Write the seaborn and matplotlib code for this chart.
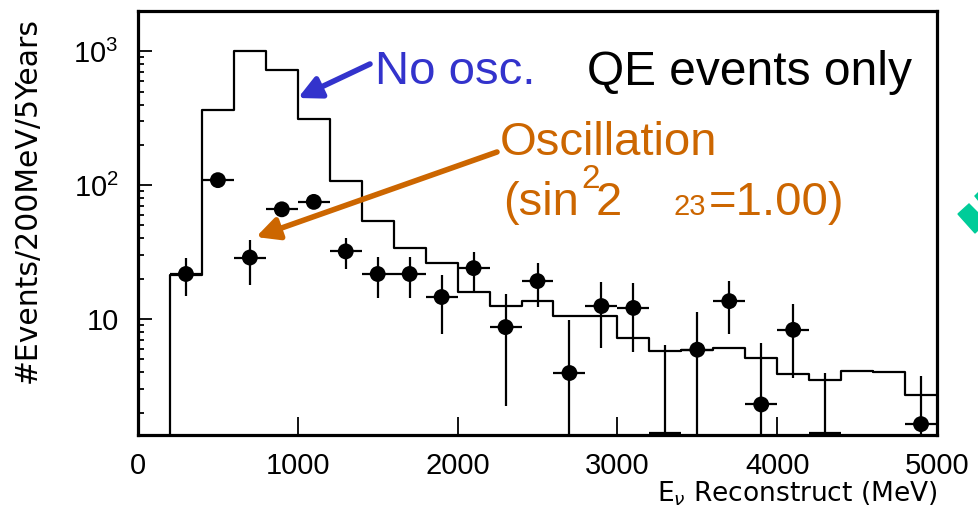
import numpy as np
import pandas as pd
import matplotlib
matplotlib.use("Agg")
import matplotlib.pyplot as plt
import seaborn as sns

# Unoscillated expectation, 200 MeV bins (0 - 5000 MeV)
bin_edges = [0, 200, 400, 600, 800, 1000, 1200, 1400, 1600, 1800, 2000, 2200, 2400,
             2600, 2800, 3000, 3200, 3400, 3600, 3800, 4000, 4200, 4400, 4600, 4800, 5000]
no_osc = [0, 21.3, 363, 1000, 720, 310, 107, 54, 34, 26.2, 15.9, 12.5, 13.6,
          10.5, 10.5, 7.2, 5.75, 5.9, 6.1, 5.1, 3.9, 3.5, 4.1, 4.0, 2.7]

# Oscillated pseudo-data (bin centres, value, error band low/high)
bin_centres = [300, 500, 700, 900, 1100, 1300, 1500, 1700, 1900, 2100, 2300, 2500,
               2700, 2900, 3100, 3300, 3500, 3700, 3900, 4100, 4300, 4500, 4700, 4900]
osc_events = [21.7, 109, 28.8, 66, 75, 32, 21.7, 21.7, 14.6, 24, 8.7, 19.2,
              3.95, 12.5, 12.1, 0, 5.9, 13.6, 2.3, 8.3, 0, np.nan, np.nan, 1.64]
osc_low = [14.8, 99, 17.9, 58, 67, 23.6, 14.4, 14.4, 7.7, 15.9, 2.24, 12.3,
           0, 6.1, 5.7, 0, 0, 7.7, 0, 3.6, 0, np.nan, np.nan, 0]
osc_high = [28.5, 120, 39, 75, 84, 40, 29, 29, 21.3, 31.6, 15.4, 26,
            9.8, 18.9, 18.5, 6.4, 11.3, 19.2, 6.6, 12.9, 3.95, np.nan, np.nan, 3.76]

y_min, y_max = 1.36, 2000
blue = "#3333CC"
orange = "#CC6600"

sns.set_style("ticks")
plt.rcParams["font.family"] = ["Liberation Sans", "DejaVu Sans"]
plt.rcParams["mathtext.fontset"] = "custom"
plt.rcParams["mathtext.rm"] = "Liberation Sans"
for key in ["text.color", "axes.labelcolor", "xtick.color", "ytick.color"]:
    plt.rcParams[key] = "black"

W, H = 979, 520
fig = plt.figure(figsize=(W / 100, H / 100), dpi=100)
ax = fig.add_axes([138 / W, 1 - 435 / H, (937 - 138) / W, (435 - 11) / H])


def fpx(x, y):
    # pixel position -> figure fraction
    return (x / W, 1 - y / H)


# histogram of the no-oscillation expectation
edges = np.array(bin_edges, dtype=float)
mc = pd.DataFrame({"E": (edges[:-1] + edges[1:]) / 2, "w": no_osc})
sns.histplot(data=mc, x="E", weights="w", bins=list(bin_edges), element="step",
             fill=False, color="black", linewidth=1.6, ax=ax)

# data points with error bars
df = pd.DataFrame({"E": bin_centres, "N": osc_events, "lo": osc_low, "hi": osc_high})
df = df.dropna()
x = df["E"].to_numpy(float)
y = df["N"].to_numpy(float)
y_draw = np.where(y > 0, y, y_min * 1.03)  # empty bins sit on the frame
lo = df["lo"].to_numpy(float)
hi = df["hi"].to_numpy(float)
ax.errorbar(x, y_draw, yerr=[y_draw - lo, hi - y_draw], xerr=100, fmt="none",
            ecolor="black", elinewidth=1.6, capsize=0, zorder=3)
pos = y > 0
sns.scatterplot(x=x[pos], y=y[pos], s=130, color="black", edgecolor="none",
                zorder=4, ax=ax)

ax.set_yscale("log")
ax.set_xlim(0, 5000)
ax.set_ylim(y_min, y_max)
ax.set_xticks([0, 1000, 2000, 3000, 4000, 5000])
ax.set_xticklabels(["0", "1000", "2000", "3000", "4000", "5000"])
ax.set_yticks([10, 100, 1000])
ax.set_yticklabels(["10", r"$\mathregular{10^{2}}$", r"$\mathregular{10^{3}}$"])
ax.yaxis.set_minor_locator(matplotlib.ticker.LogLocator(base=10, subs=np.arange(2, 10)))
ax.yaxis.set_minor_formatter(matplotlib.ticker.NullFormatter())
ax.xaxis.set_minor_locator(matplotlib.ticker.NullLocator())

ax.tick_params(axis="x", which="major", direction="in", length=13, width=1.3,
               labelsize=21, pad=12, top=False, colors="black")
ax.tick_params(axis="y", which="major", direction="in", length=10, width=1.3,
               labelsize=21, pad=14, right=False, colors="black")
ax.tick_params(axis="y", which="minor", direction="in", length=4.5, width=1.3,
               right=False, colors="black")
for side in ["left", "right", "top", "bottom"]:
    ax.spines[side].set_visible(True)
    ax.spines[side].set_linewidth(2.3)
    ax.spines[side].set_color("black")

ax.set_xlabel(r"E$_\nu$ Reconstruct (MeV)", fontsize=19, family="DejaVu Sans",
              loc="right")
ax.xaxis.set_label_coords(1.0, -0.105)
ax.xaxis.label.set_verticalalignment("top")
ax.set_ylabel("#Events/200MeV/5Years", fontsize=21.5, family="DejaVu Sans", loc="top")
ax.yaxis.set_label_coords(-0.12, 0.985)

# annotations
fig.text(*fpx(375, 84), "No osc.", color=blue, fontsize=34, va="baseline")
fig.text(*fpx(587, 85), "QE events only", color="black", fontsize=34.5, va="baseline")
fig.text(*fpx(500, 155), "Oscillation", color=orange, fontsize=34, va="baseline")
fig.text(*fpx(503, 215), "(sin", color=orange, fontsize=34, va="baseline")
fig.text(*fpx(581, 188), "2", color=orange, fontsize=24, va="baseline")
fig.text(*fpx(596, 215), "2", color=orange, fontsize=34, va="baseline")
fig.text(*fpx(674, 215), "23", color=orange, fontsize=21, va="baseline")
fig.text(*fpx(709, 215), "=1.00)", color=orange, fontsize=34, va="baseline")

ax.annotate("", xy=fpx(298, 98), xytext=fpx(370, 64), xycoords="figure fraction",
            textcoords="figure fraction",
            arrowprops=dict(arrowstyle="-|>,head_length=0.9,head_width=0.45", lw=4,
                            color=blue, mutation_scale=15, shrinkA=0, shrinkB=0))
ax.annotate("", xy=fpx(256, 237), xytext=fpx(497, 152), xycoords="figure fraction",
            textcoords="figure fraction",
            arrowprops=dict(arrowstyle="-|>,head_length=0.9,head_width=0.45", lw=4,
                            color=orange, mutation_scale=15, shrinkA=0, shrinkB=0))

# green fragment at the slide edge
green = "#00CC99"
fig.patches.append(plt.Polygon([fpx(969, 204), fpx(979, 214), fpx(979, 229),
                                fpx(975, 233), fpx(958, 214)],
                               closed=True, color=green, transform=fig.transFigure))
fig.patches.append(plt.Polygon([fpx(975, 196), fpx(979, 192), fpx(979, 201)],
                               closed=True, color=green, transform=fig.transFigure))

fig.savefig("out.png", dpi=100)
